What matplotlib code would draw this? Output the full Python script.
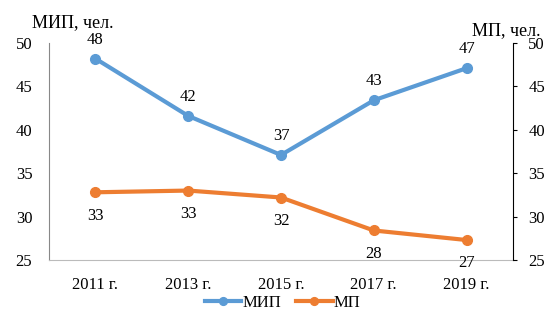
import matplotlib.pyplot as plt

plt.rcParams['font.family'] = ['Liberation Serif', 'DejaVu Serif']

years = ["2011 г.", "2013 г.", "2015 г.", "2017 г.", "2019 г."]
mip = [48.2, 41.6, 37.1, 43.4, 47.1]
mp = [32.8, 33.0, 32.2, 28.4, 27.3]
mip_labels = ["48", "42", "37", "43", "47"]
mp_labels = ["33", "33", "32", "28", "27"]

blue = "#5B9BD5"
orange = "#ED7D31"
fs = 12

fig = plt.figure(figsize=(5.53, 3.25), dpi=100)
ax = fig.add_axes([0.0886, 0.2, 0.8391, 0.6677])
ax2 = ax.twinx()

x = list(range(len(years)))
l1, = ax.plot(x, mip, color=blue, lw=3, marker="o", ms=7, label="МИП")
l2, = ax2.plot(x, mp, color=orange, lw=3, marker="o", ms=7, label="МП")

for xi, v, t in zip(x, mip, mip_labels):
    ax.annotate(t, (xi, v), xytext=(0, 8), textcoords="offset points",
                ha="center", va="bottom", fontsize=fs)
for xi, v, t in zip(x, mp, mp_labels):
    ax2.annotate(t, (xi, v), xytext=(0, -11), textcoords="offset points",
                 ha="center", va="top", fontsize=fs)

for a in (ax, ax2):
    a.set_ylim(25, 50)
    a.set_yticks([25, 30, 35, 40, 45, 50])
    a.set_xlim(-0.5, 4.5)
    a.spines["top"].set_visible(False)

ax.set_xticks(x)
ax.set_xticklabels(years)
ax.tick_params(axis="x", length=0, labelsize=fs, pad=12)
ax.tick_params(axis="y", length=0, labelsize=fs, pad=12)
ax2.tick_params(axis="y", length=3, labelsize=fs, pad=8, direction="out")

ax.spines["left"].set_color("#888888")
ax.spines["bottom"].set_color("#bbbbbb")
ax.spines["right"].set_visible(False)
ax2.spines["left"].set_visible(False)
ax2.spines["bottom"].set_visible(False)
ax2.spines["right"].set_color("black")

fig.text(0.058, 0.932, "МИП, чел.", fontsize=13, ha="left", va="center")
fig.text(0.978, 0.907, "МП, чел.", fontsize=13, ha="right", va="center")

leg = fig.legend(handles=[l1, l2], loc="center", bbox_to_anchor=(0.511, 0.068),
                 ncol=2, frameon=False, fontsize=fs, handlelength=2.2,
                 columnspacing=0.9, handletextpad=0.05, markerscale=0.8)

fig.savefig("out.png", dpi=100)
